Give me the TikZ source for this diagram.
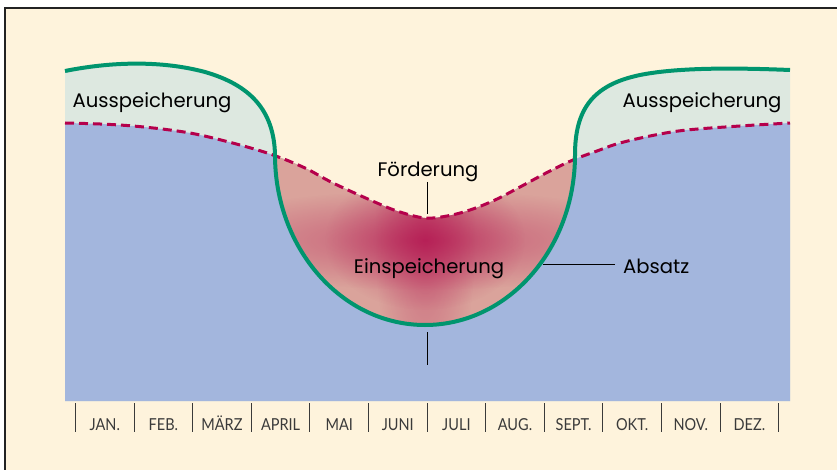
\documentclass[tikz,border=0pt]{standalone}
\usepackage{fontspec}
\usetikzlibrary{fadings}
\setmainfont{Poppins}
\newfontfamily\monthfont[FakeStretch=0.88]{Lato}
\definecolor{creamc}{HTML}{FEF3DC}
\definecolor{framec}{HTML}{222222}
\definecolor{bluec}{HTML}{A3B6DD}
\definecolor{lgreenc}{HTML}{DDE8E0}
\definecolor{greenc}{HTML}{00956E}
\definecolor{dashc}{HTML}{B5004B}
\definecolor{pinkc}{HTML}{DAA39B}
\definecolor{crimsonc}{HTML}{B0084A}
\definecolor{monthc}{HTML}{3A3A3A}
\tikzfading[name=glowfade, inner color=transparent!0, outer color=transparent!100]
\tikzset{
  lbl/.style={font=\fontsize{19.6}{22}\selectfont, text=black, inner sep=0pt, anchor=base},
  month/.style={font=\monthfont\fontsize{16.5}{18}\selectfont, text=monthc, inner sep=0pt, anchor=base},
  leader/.style={draw=black, line width=1pt},
  tickline/.style={draw=monthc, line width=1pt},
  greenline/.style={draw=greenc, line width=4pt},
  dashline/.style={draw=dashc, line width=3pt, dash pattern=on 9pt off 5pt},
  glow/.style={fill=crimsonc, path fading=glowfade}
}
\def\greenpath{(65,71) .. controls (110,62) and (160,60) .. (205,72) .. controls (250,85) and (274,110) .. (275,155) arc[start angle=180, end angle=0, x radius=150, y radius=170] .. controls (575,110) and (592,85) .. (640,75) .. controls (680,67) and (740,68) .. (790,70)}
\def\dashpath{plot[smooth,tension=0.6] coordinates {(65,123) (100,124) (133,126) (170,130) (200,135) (240,145) (273,155) (305,168) (333,183) (377,203) (400,212) (425,218) (447,216) (470,210) (495,200) (520,187) (548,172) (573,160) (597,151) (620,143) (655,135) (687,130) (740,126) (790,123)}}
\begin{document}
\begin{tikzpicture}[x=1pt,y=-1pt]
\useasboundingbox (0,0) rectangle (837,470);
\fill[white] (0,0) rectangle (837,470);
\fill[creamc] (5,8) rectangle (837,470);
\draw[framec, line width=1.3pt] (5,470) -- (5,8) -- (837,8);
% areas
\fill[lgreenc] \greenpath -- (790,401) -- (65,401) -- cycle;
\fill[bluec] \dashpath -- (790,401) -- (65,401) -- cycle;
\begin{scope}
  \clip \dashpath -- (790,401) -- (65,401) -- cycle;
  \clip \greenpath -- (790,0) -- (65,0) -- cycle;
  \fill[pinkc] (60,0) rectangle (800,401);
  \fill[glow, fill opacity=0.45] (425,240) ellipse [x radius=250, y radius=50];
  \fill[glow, fill opacity=0.35] (425,240) ellipse [x radius=50, y radius=170];
  \fill[glow, fill opacity=0.55] (425,240) ellipse [x radius=100, y radius=70];
\end{scope}
\draw[dashline] \dashpath;
\draw[greenline] \greenpath;
% labels
\node[lbl] (aus1) at (152,108) {Ausspeicherung};
\node[lbl] (aus2) at (702,108) {Ausspeicherung};
\node[lbl] (foerd) at (428,177) {Förderung};
\node[lbl] (einsp) at (429,273) {Einspeicherung};
\node[lbl, anchor=base west] (absatz) at (623,273) {Absatz};
\coordinate (ftop) at (427,182);
\coordinate (fbot) at (427,214);
\draw[leader] (ftop) -- (fbot);
\coordinate (aright) at (615,264);
\coordinate (aleft) at (543,264);
\draw[leader] (aright) -- (aleft);
\coordinate (btop) at (427,332);
\coordinate (bbot) at (427,365);
\draw[leader] (btop) -- (bbot);
% months
\foreach \i in {0,...,12}{
  \coordinate (t\i) at (75.5+58.6*\i,403);
  \coordinate (u\i) at (75.5+58.6*\i,432);
  \draw[tickline] (t\i) -- (u\i);
}
\foreach \m [count=\i] in {JAN.,FEB.,MÄRZ,APRIL,MAI,JUNI,JULI,AUG.,SEPT.,OKT.,NOV.,DEZ.}{
  \node[month] (m\i) at (75.5+58.6*\i-29.3,430) {\m};
}
\end{tikzpicture}
\end{document}
